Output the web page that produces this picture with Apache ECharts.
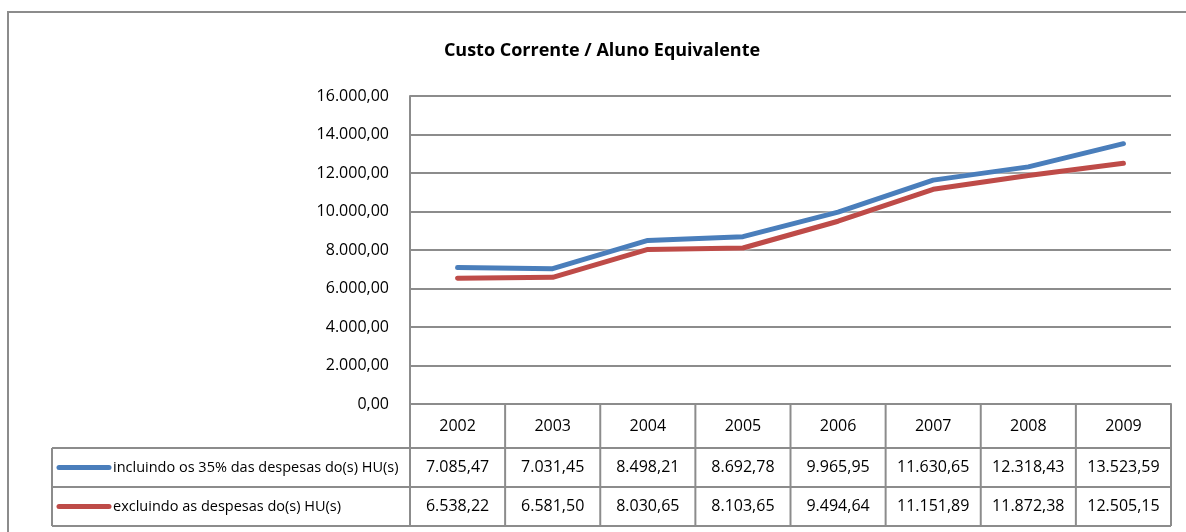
<!DOCTYPE html>
<html>
<head>
<meta charset="utf-8">
<script src="https://cdn.jsdelivr.net/npm/echarts@6/dist/echarts.min.js"></script>
<style>
  html, body { margin: 0; padding: 0; background: #fff; }
  #chart { width: 1186px; height: 532px; }
</style>
</head>
<body>
<div id="chart"></div>
<script>
const years = ["2002", "2003", "2004", "2005", "2006", "2007", "2008", "2009"];
const incluindo = [7085.47, 7031.45, 8498.21, 8692.78, 9965.95, 11630.65, 12318.43, 13523.59];
const excluindo = [6538.22, 6581.5, 8030.65, 8103.65, 9494.64, 11151.89, 11872.38, 12505.15];
const seriesNames = [
  "incluindo os 35% das despesas do(s) HU(s)",
  "excluindo as despesas do(s) HU(s)",
];
const colors = ["#4a7ebb", "#be4b48"];

// plot area in pixels (table sits right below it)
const plot = { left: 410, top: 96, width: 761, height: 308 };
const rowBottoms = [448, 487, 526];
const legendLeft = 52;
const lineColor = "#8c8c8c";
const font = "'Open Sans', sans-serif";

function formatBR(value) {
  const parts = value.toFixed(2).split(".");
  const intPart = parts[0].replace(/\B(?=(\d{3})+(?!\d))/g, ".");
  return intPart + "," + parts[1];
}

function hline(x1, x2, y) {
  return {
    type: "line",
    shape: { x1: x1, y1: y, x2: x2, y2: y },
    style: { stroke: lineColor, lineWidth: 2 },
    silent: true,
  };
}

function vline(x, y1, y2) {
  return {
    type: "line",
    shape: { x1: x, y1: y1, x2: x, y2: y2 },
    style: { stroke: lineColor, lineWidth: 2 },
    silent: true,
  };
}

function cellText(x, y, text) {
  return {
    type: "text",
    x: x,
    y: y,
    style: {
      text: text,
      font: "16px " + font,
      fill: "#000",
      align: "center",
      verticalAlign: "middle",
    },
    silent: true,
  };
}

function build_table() {
  const right = plot.left + plot.width;
  const bottom = plot.top + plot.height;
  const colW = plot.width / years.length;
  const els = [];
  // outer frame of the chart
  els.push({
    type: "rect",
    shape: { x: 8, y: 12, width: 1300, height: 700 },
    style: { fill: null, stroke: lineColor, lineWidth: 2 },
    silent: true,
  });
  // horizontal rules
  els.push(hline(legendLeft, right, rowBottoms[0]));
  els.push(hline(legendLeft, right, rowBottoms[1]));
  els.push(hline(legendLeft, right, rowBottoms[2]));
  // vertical rules
  els.push(vline(legendLeft, rowBottoms[0], rowBottoms[2]));
  for (let i = 0; i <= years.length; i++) {
    els.push(vline(plot.left + i * colW, bottom, rowBottoms[2]));
  }
  // header row
  years.forEach((y, i) => {
    els.push(cellText(plot.left + (i + 0.5) * colW, (bottom + rowBottoms[0]) / 2, y));
  });
  // data rows
  [incluindo, excluindo].forEach((vals, r) => {
    const cy = (rowBottoms[r] + rowBottoms[r + 1]) / 2;
    vals.forEach((v, i) => {
      els.push(cellText(plot.left + (i + 0.5) * colW, cy, formatBR(v)));
    });
    // legend key + name
    els.push({
      type: "line",
      shape: { x1: 59, y1: cy, x2: 109, y2: cy },
      style: { stroke: colors[r], lineWidth: 5, lineCap: "round" },
      silent: true,
    });
    els.push({
      type: "text",
      x: 113,
      y: cy,
      style: {
        text: seriesNames[r],
        font: "14.5px " + font,
        fill: "#000",
        align: "left",
        verticalAlign: "middle",
      },
      silent: true,
    });
  });
  return els;
}

const options = {
  animation: false,
  title: {
    text: "Custo Corrente / Aluno Equivalente",
    left: 597,
    top: 37,
    textAlign: "center",
    textStyle: {
      fontFamily: font,
      fontWeight: "bold",
      fontSize: 18,
      color: "#000",
    },
  },
  grid: {
    left: plot.left,
    top: plot.top,
    width: plot.width,
    height: plot.height,
    containLabel: false,
  },
  xAxis: {
    type: "category",
    data: years,
    boundaryGap: true,
    axisLine: { show: true, lineStyle: { color: lineColor, width: 2 } },
    axisTick: { show: false },
    axisLabel: { show: false },
  },
  yAxis: {
    type: "value",
    min: 0,
    max: 16000,
    interval: 2000,
    axisLine: { show: true, lineStyle: { color: lineColor, width: 2 } },
    axisTick: { show: false },
    axisLabel: {
      margin: 21,
      fontFamily: font,
      fontSize: 16,
      color: "#000",
      formatter: (v) => formatBR(v),
    },
    splitLine: { lineStyle: { color: lineColor, width: 2 } },
  },
  series: [incluindo, excluindo].map((vals, i) => ({
    name: seriesNames[i],
    type: "line",
    data: vals,
    symbol: "none",
    lineStyle: {
      color: colors[i],
      width: 5,
      cap: "round",
      shadowColor: "rgba(255,255,255,0.9)",
      shadowBlur: 3,
    },
    z: 3 - i,
  })),
  graphic: build_table(),
};

document.addEventListener("DOMContentLoaded", function () {
  const myChart = echarts.init(document.getElementById("chart"));
  myChart.setOption(options);
});
</script>
</body>
</html>
